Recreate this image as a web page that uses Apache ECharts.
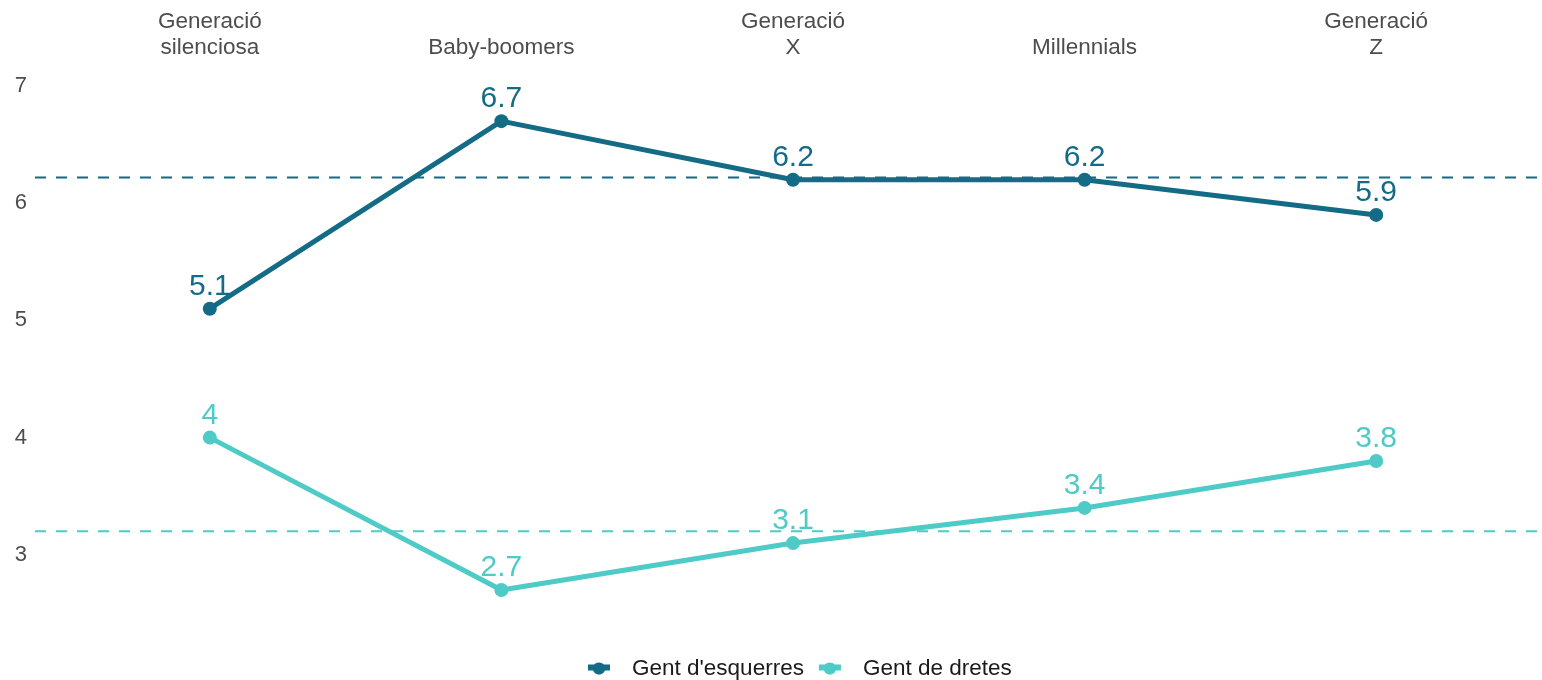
<!DOCTYPE html>
<html>
<head>
<meta charset="utf-8">
<script src="https://cdn.jsdelivr.net/npm/echarts@6/dist/echarts.min.js"></script>
<style>
  html, body { margin: 0; padding: 0; background: #ffffff; }
  #chart { width: 1542px; height: 680px; }
</style>
</head>
<body>
<div id="chart"></div>
<script>
// Generations shown along the top axis
const generations = ['Generació\nsilenciosa', 'Baby-boomers', 'Generació\nX', 'Millennials', 'Generació\nZ'];
// Average score per generation
const esquerres = [5.1, 6.7, 6.2, 6.2, 5.9];
const dretes = [4.0, 2.7, 3.1, 3.4, 3.8];
// Overall reference levels (dashed lines)
const refEsquerres = 6.22;
const refDretes = 3.2;
// Y axis tick labels
const yTicks = [3, 4, 5, 6, 7];

const seriesNames = ["Gent d'esquerres", 'Gent de dretes'];
const colors = ['#136b85', '#4ecac7'];

const font = 'Liberation Sans, Arial, Helvetica, sans-serif';
// Legend key: thick line segment with a point on it
const legendIcon = 'path://M0,5 L6,5 A7,7 0 0 1 16,5 L22,5 L22,11 L17,11 A6.5,6.5 0 0 1 5,11 L0,11 Z';

const chart = echarts.init(document.getElementById('chart'), null, { renderer: 'canvas' });

function lineSeries(name, data, color) {
  return {
    name: name,
    type: 'line',
    xAxisIndex: 0,
    yAxisIndex: 0,
    data: data,
    symbol: 'circle',
    symbolSize: 14,
    z: 2,
    lineStyle: { width: 5, color: color },
    itemStyle: { color: color },
    label: {
      show: true,
      position: 'top',
      distance: 0,
      color: color,
      fontFamily: font,
      fontSize: 30,
      formatter: p => String(p.value)
    },
    emphasis: { disabled: true }
  };
}

function refSeries(name, value, color) {
  return {
    name: name,
    type: 'line',
    xAxisIndex: 1,
    yAxisIndex: 1,
    data: [[0, value], [1, value]],
    symbol: 'none',
    z: 10,
    silent: true,
    lineStyle: { width: 2, type: [11, 10], color: color },
    itemStyle: { color: color },
    emphasis: { disabled: true }
  };
}

chart.setOption({
  backgroundColor: '#ffffff',
  animation: false,
  color: colors,
  legend: {
    data: seriesNames.map((n, i) => ({ name: n, icon: legendIcon, itemStyle: { color: colors[i] } })),
    bottom: 0,
    left: 588,
    padding: 0,
    itemWidth: 22,
    itemHeight: 17,
    itemGap: 15,
    textStyle: { fontFamily: font, fontSize: 22.5, color: '#1a1a1a', padding: [0, 0, 0, 17] },
    selectedMode: false
  },
  grid: [
    { left: 64, right: 20, top: 86, bottom: 8 },
    { left: 35, right: 0, top: 86, bottom: 8 }
  ],
  xAxis: [
    {
      type: 'category',
      gridIndex: 0,
      position: 'top',
      data: generations,
      boundaryGap: true,
      axisLine: { show: false },
      axisTick: { show: false },
      splitLine: { show: false },
      axisLabel: {
        margin: 25,
        fontFamily: font,
        fontSize: 22.5,
        lineHeight: 26,
        color: '#4d4d4d',
        interval: 0
      }
    },
    {
      type: 'value',
      gridIndex: 1,
      min: 0,
      max: 1,
      show: false
    }
  ],
  yAxis: [
    {
      type: 'value',
      gridIndex: 0,
      min: 2,
      max: 7,
      interval: 1,
      axisLine: { show: false },
      axisTick: { show: false },
      splitLine: { show: false },
      axisLabel: {
        margin: 37,
        fontFamily: font,
        fontSize: 22,
        color: '#4d4d4d',
        formatter: v => (yTicks.indexOf(v) >= 0 ? String(v) : '')
      }
    },
    {
      type: 'value',
      gridIndex: 1,
      min: 2,
      max: 7,
      show: false
    }
  ],
  series: [
    lineSeries(seriesNames[0], esquerres, colors[0]),
    lineSeries(seriesNames[1], dretes, colors[1]),
    refSeries('ref-esquerres', refEsquerres, colors[0]),
    refSeries('ref-dretes', refDretes, colors[1])
  ]
});
</script>
</body>
</html>
